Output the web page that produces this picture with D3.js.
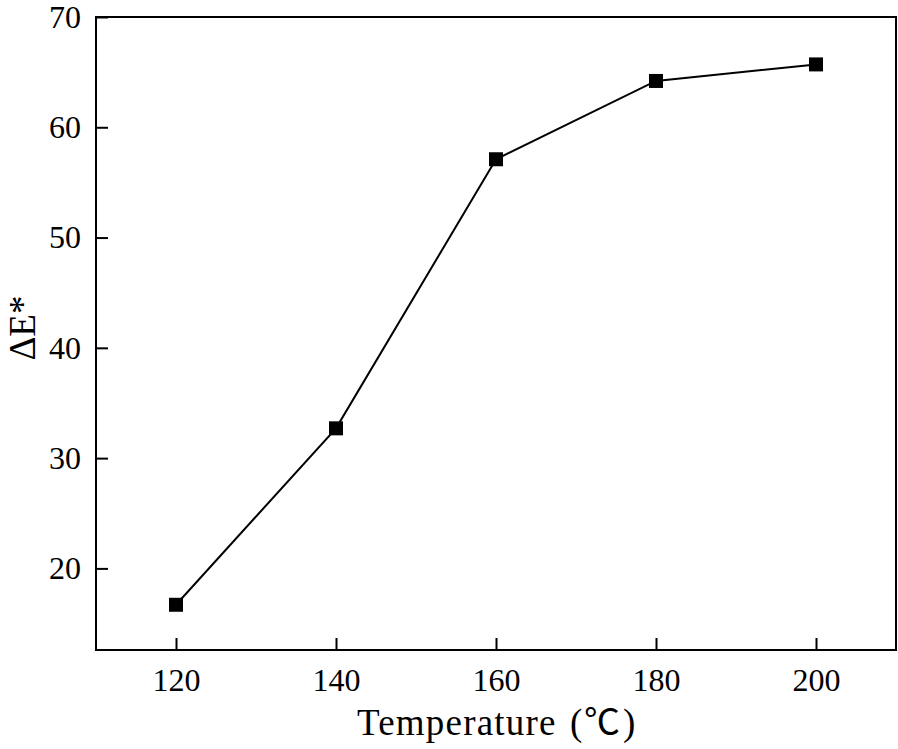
<!DOCTYPE html>
<html><head><meta charset="utf-8">
<script src="https://cdn.jsdelivr.net/npm/d3@7"></script>
<style>body{margin:0;background:#fff}svg{display:block}
.lbl{font-family:'Liberation Serif','Times New Roman',serif;fill:#000}</style>
</head><body>
<svg id="c" width="898" height="749"></svg>
<script>
const temperatures = [120, 140, 160, 180, 200];
const deltaE = [16.7, 32.7, 57.1, 64.2, 65.7];
const xTicks = [120, 140, 160, 180, 200];
const yTicks = [20, 30, 40, 50, 60, 70];

const svg = d3.select("#c");
const L = 96, R = 896, T = 17, B = 650;
const x = d3.scaleLinear().domain([110, 210]).range([L, R]);
const y = d3.scaleLinear().domain([12.6, 70]).range([B, T]);

svg.append("rect").attr("x", L).attr("y", T).attr("width", R - L).attr("height", B - T)
  .attr("fill", "none").attr("stroke", "#000").attr("stroke-width", 2);

const xa = svg.append("g").attr("transform", `translate(0,${B})`)
  .call(d3.axisBottom(x).tickValues(xTicks).tickSizeInner(-12).tickSizeOuter(0).tickPadding(18));
const ya = svg.append("g").attr("transform", `translate(${L},0)`)
  .call(d3.axisLeft(y).tickValues(yTicks).tickSizeInner(-12).tickSizeOuter(0).tickPadding(15));
[xa, ya].forEach(g => {
  g.attr("font-family", null).attr("font-size", null);
  g.select(".domain").remove();
  g.selectAll("line").attr("stroke", "#000").attr("stroke-width", 2);
  g.selectAll("text").attr("class", "lbl").style("font-size", "32px")
    .style("font-family", "'Liberation Serif','Times New Roman',serif").attr("fill", "#000");
});

const line = d3.line().x((d, i) => x(temperatures[i])).y(d => y(d));
svg.append("path").datum(deltaE).attr("d", line).attr("fill", "none")
  .attr("stroke", "#000").attr("stroke-width", 2);
const s = 14;
svg.selectAll("rect.m").data(deltaE).enter().append("rect").attr("class", "m")
  .attr("x", (d, i) => x(temperatures[i]) - s / 2).attr("y", d => y(d) - s / 2)
  .attr("width", s).attr("height", s).attr("fill", "#000");

const xt = svg.append("text").attr("class", "lbl").attr("y", 735).style("font-size", "37px");
xt.append("tspan").attr("x", 357).style("letter-spacing", "1.2px").text("Temperature");
xt.append("tspan").attr("x", 570).text("(");
xt.append("tspan").attr("x", 584).style("font-family", "'Noto Sans CJK SC'").style("font-size", "36px").text("℃");
xt.append("tspan").attr("x", 623).text(")");
svg.append("text").attr("class", "lbl").attr("transform", `translate(35,328) rotate(-90)`)
  .attr("text-anchor", "middle").style("font-size", "37px").text("ΔE*");
</script>
</body></html>
